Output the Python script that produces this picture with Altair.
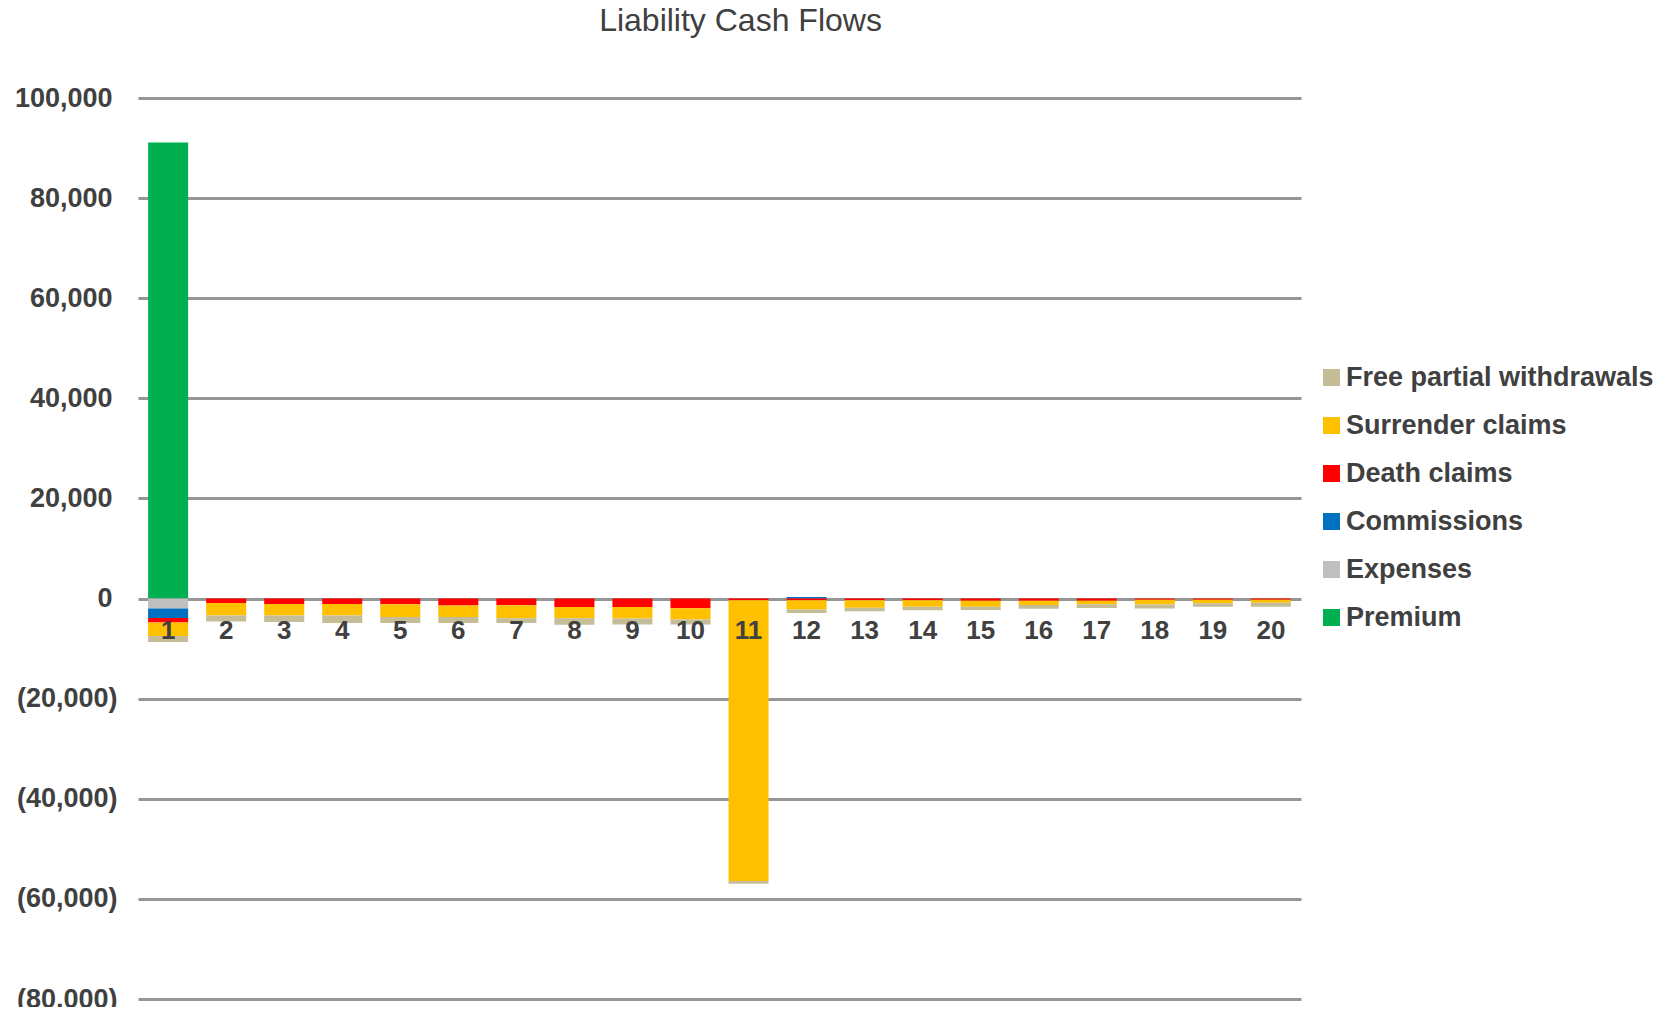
import altair as alt
import pandas as pd

years = list(range(1, 21))
series_names = ["Premium", "Expenses", "Commissions", "Death claims",
                "Surrender claims", "Free partial withdrawals"]
premium = [91100] + [0] * 19
expenses = [-2000] + [0] * 19
commissions = [-1900] + [0] * 10 + [300] + [0] * 8
death = [-900, -870, -1070, -1070, -1130, -1400, -1330, -1670, -1670, -1930,
         -330, -330, -330, -330, -420, -420, -420, -250, -250, -250]
surrender = [-2700, -2530, -2330, -2330, -2530, -2270, -2600, -2270, -2330, -2270,
             -56100, -1870, -1530, -1330, -1200, -870, -730, -930, -670, -600]
free_partial = [-1200, -1200, -1270, -1470, -1200, -1200, -930, -1270, -1200, -1000,
                -530, -670, -670, -670, -670, -730, -730, -800, -730, -800]

legend_order = ["Free partial withdrawals", "Surrender claims", "Death claims",
                "Commissions", "Expenses", "Premium"]
legend_colors = ["#C4BD97", "#FFC000", "#FF0000", "#0070C0", "#BFBFBF", "#00B050"]
y_ticks = [100000, 80000, 60000, 40000, 20000, 0, -20000, -40000, -60000, -80000]

series_values = [premium, expenses, commissions, death, surrender, free_partial]
rows = []
for rank, (name, vals) in enumerate(zip(series_names, series_values)):
    for yr, v in zip(years, vals):
        rows.append({"year": yr, "series": name, "value": v, "rank": rank})
df = pd.DataFrame(rows)
labels_df = pd.DataFrame({"year": years, "label": [str(y) for y in years]})

FONT = "Liberation Sans"
TXT = "#404040"

x_enc = alt.X("year:O", scale=alt.Scale(paddingInner=0.31, paddingOuter=0.174), axis=None)

bars = alt.Chart(df).mark_bar().encode(
    x=x_enc,
    y=alt.Y("value:Q",
            scale=alt.Scale(domain=[-80000, 100000], nice=False, zero=False),
            axis=alt.Axis(values=y_ticks, grid=True, gridColor="#969696", gridWidth=3,
                          domain=False, ticks=False, title=None,
                          labelFont=FONT, labelFontSize=27, labelFontWeight="bold",
                          labelColor=TXT,
                          labelPadding={"condition": {"test": "datum.value < 0", "value": 21},
                                        "value": 26},
                          labelExpr="datum.value < 0 ? '(' + format(-datum.value, ',') + ')' : format(datum.value, ',')")),
    color=alt.Color("series:N",
                    scale=alt.Scale(domain=legend_order, range=legend_colors),
                    legend=alt.Legend(title=None, orient="none", legendX=1180, legendY=266,
                                      symbolType="square", symbolSize=289, symbolStrokeWidth=0,
                                      labelFont=FONT, labelFontSize=27, labelFontWeight="bold",
                                      labelColor=TXT, labelOffset=1, rowPadding=20,
                                      padding=0, symbolOffset=0, labelLimit=400)),
    order=alt.Order("rank:Q"),
)

labels = alt.Chart(labels_df).mark_text(
    font=FONT, fontSize=26, fontWeight="bold", color=TXT, baseline="alphabetic", dy=40.5
).encode(
    x=x_enc,
    y=alt.datum(0),
    text="label:N",
)

chart = alt.layer(bars, labels).properties(
    width=1163, height=901,
    title=alt.TitleParams("Liability Cash Flows", font=FONT, fontSize=32, fontWeight="normal",
                          color=TXT, frame="group", anchor="middle", dx=21,
                          baseline="alphabetic", offset=21),
    autosize=alt.AutoSizeParams(type="none"),
    padding={"left": 130, "top": 90, "right": 359, "bottom": 8},
).configure_view(stroke=None)

chart.save("out.html", embed_options={"renderer": "svg", "actions": False})
